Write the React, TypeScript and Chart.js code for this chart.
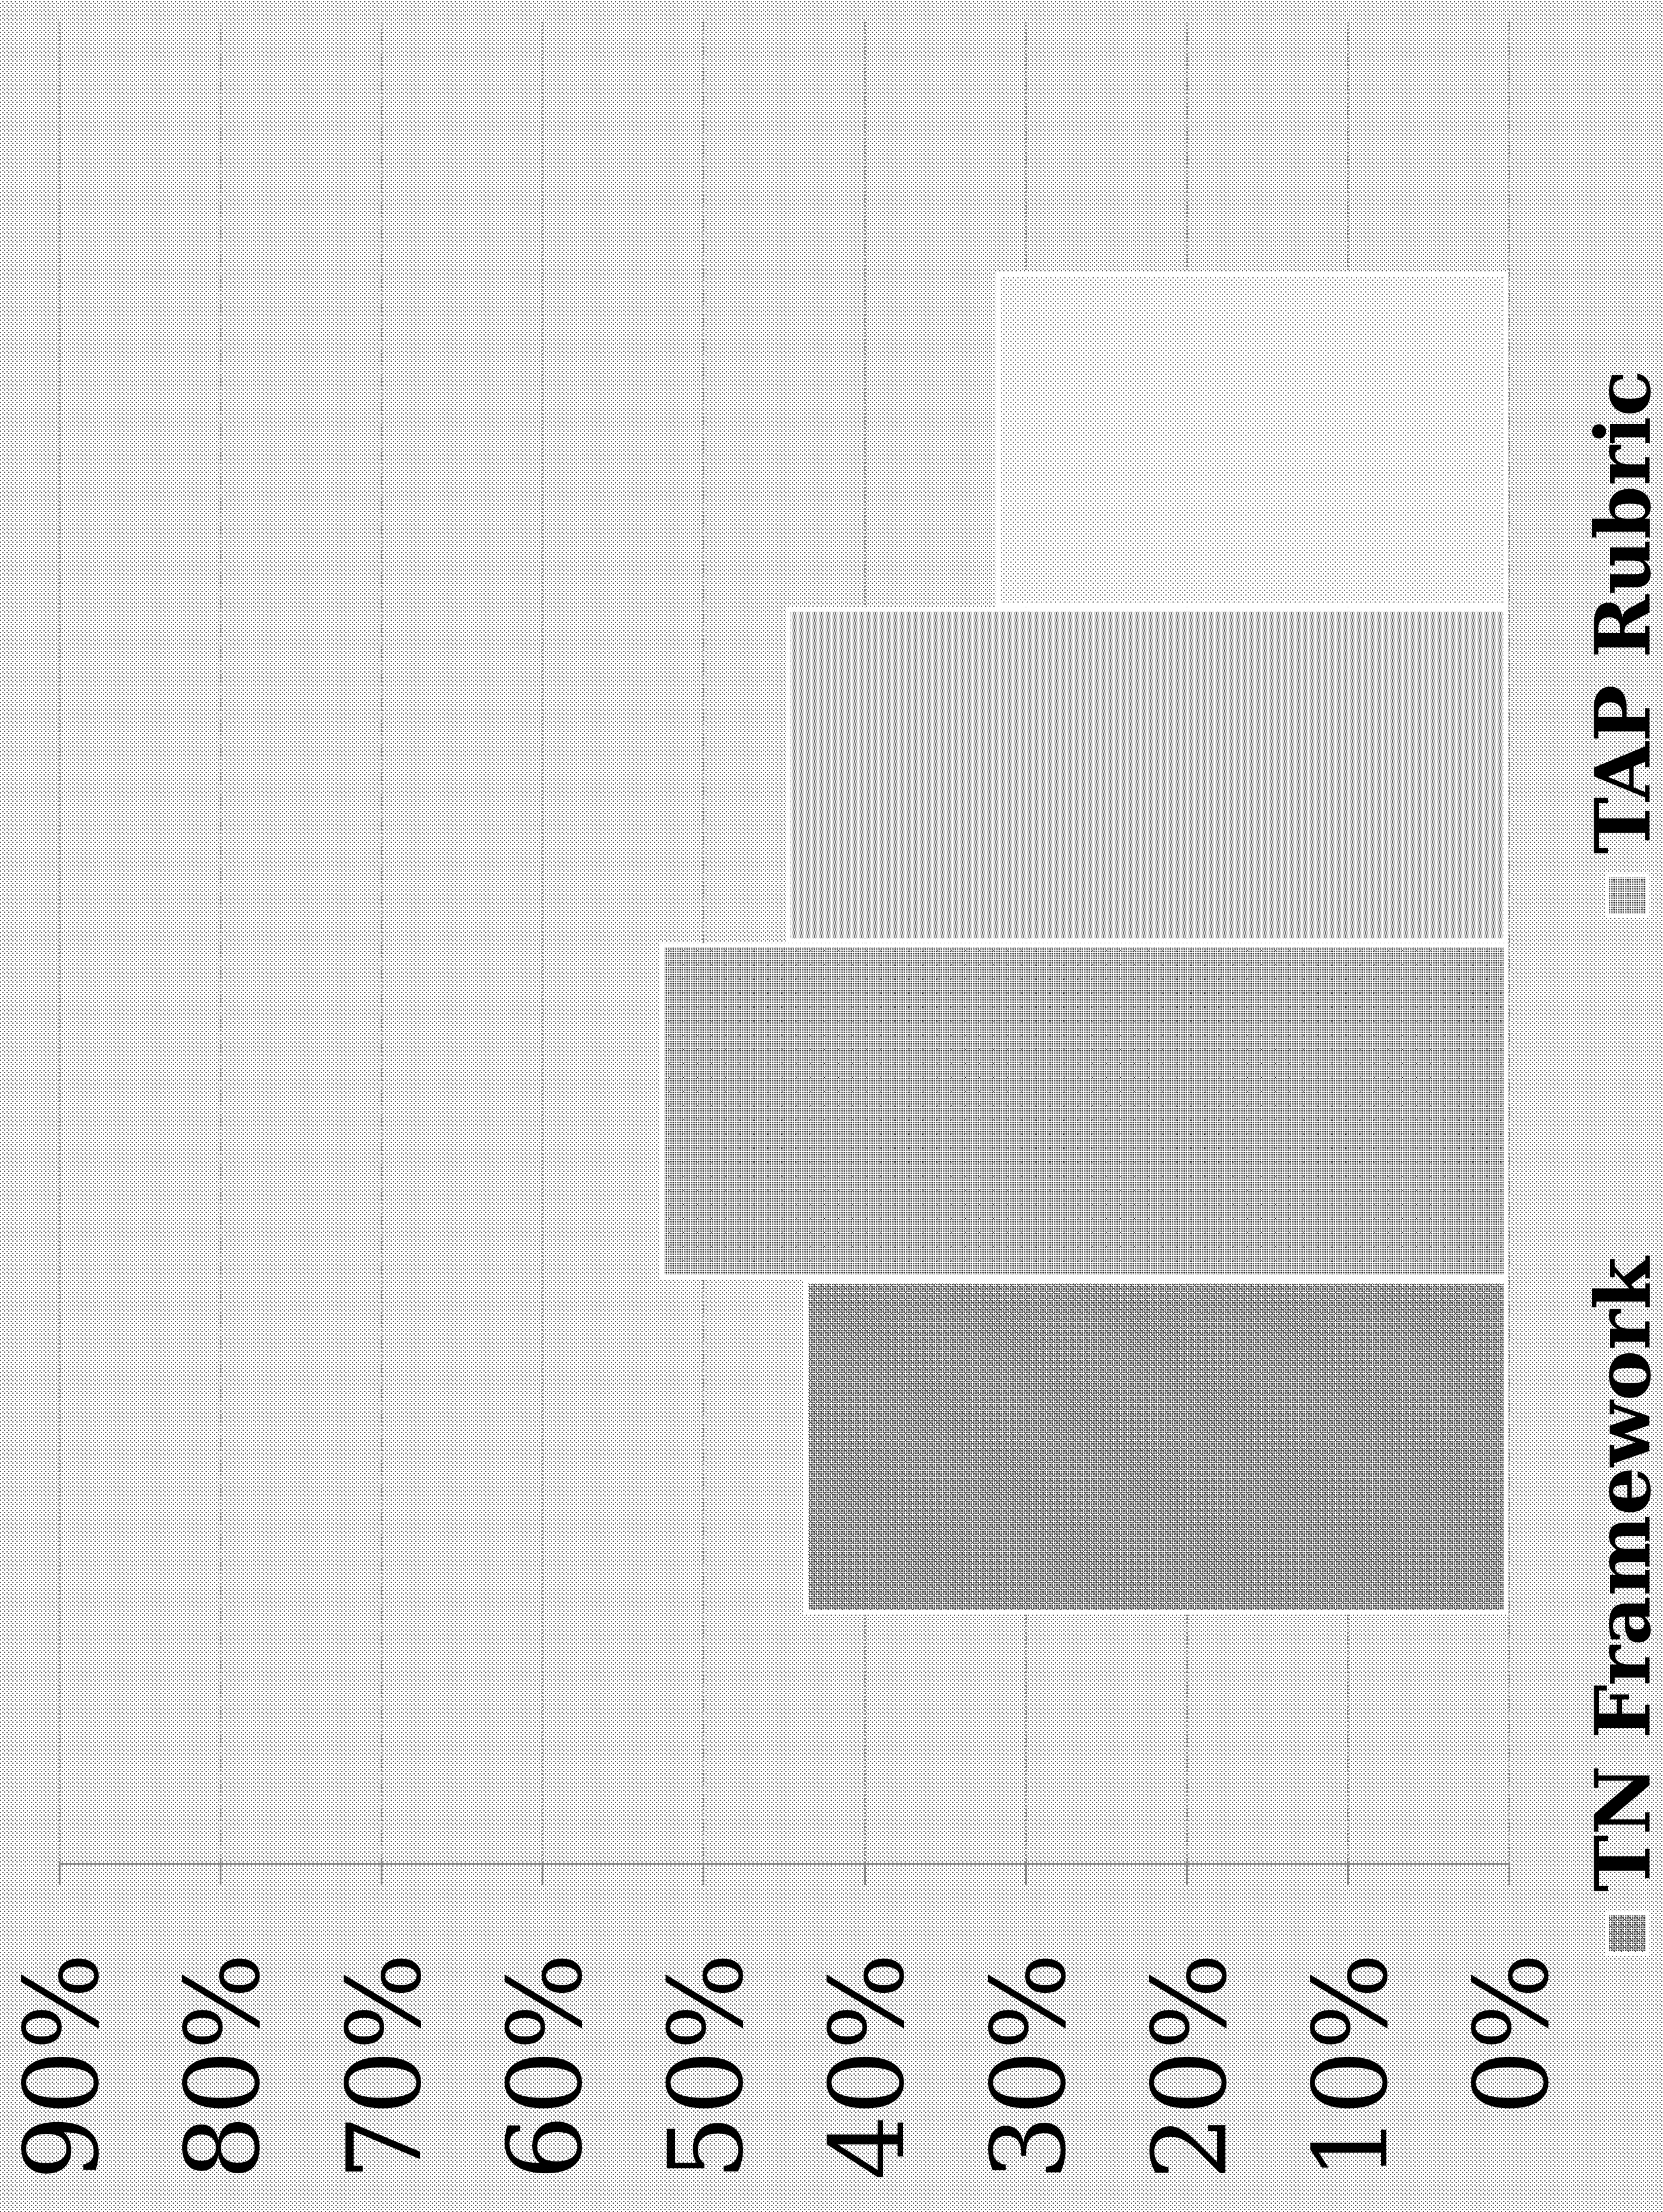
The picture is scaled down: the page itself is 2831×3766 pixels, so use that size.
import React, { useEffect, useRef } from 'react';
import { Chart, registerables } from 'chart.js';

Chart.register(...registerables);

// ---- data ----
const categories: string[] = [''];
const seriesNames: string[] = ['TN Framework', 'TAP Rubric', 'Series 3', 'Series 4'];
const tnFramework: number[] = [0.438];
const tapRubric: number[] = [0.527];
const series3: number[] = [0.449];
const series4: number[] = [0.319];
const yTickValues: number[] = [0, 0.1, 0.2, 0.3, 0.4, 0.5, 0.6, 0.7, 0.8, 0.9];
const legendSeries: number[] = [0, 1];

// chart is drawn landscape and turned a quarter turn
const CW = 3766;
const CH = 2831;

function makePattern(size: number, paint: (g: CanvasRenderingContext2D, s: number) => void): CanvasPattern {
  const c = document.createElement('canvas');
  c.width = size;
  c.height = size;
  const g = c.getContext('2d') as CanvasRenderingContext2D;
  g.fillStyle = '#ffffff';
  g.fillRect(0, 0, size, size);
  paint(g, size);
  return g.createPattern(c, 'repeat') as CanvasPattern;
}

function buildPatterns() {
  const bg = makePattern(7, (g) => {
    g.fillStyle = '#555555';
    g.fillRect(0, 0, 2, 2);
    g.fillRect(3, 4, 2, 2);
  });
  const p1 = makePattern(12, (g, s) => {
    g.fillStyle = '#444444';
    for (let i = 0; i < s; i += 3) for (let j = 0; j < s; j += 3) g.fillRect(i, j, 2, 2);
    for (let k = 0; k < s; k++) {
      g.fillRect(k, k, 1, 1);
      g.fillRect(s - 1 - k, k, 1, 1);
    }
  });
  const p2 = makePattern(24, (g, s) => {
    for (let i = 0; i < s; i += 3)
      for (let j = 0; j < s; j += 3) {
        g.fillStyle = '#222222';
        g.fillRect(i, j, 1, 1);
        g.fillStyle = '#555555';
        g.fillRect(i + 1, j, 1, 1);
        g.fillRect(i, j + 1, 1, 1);
        g.fillStyle = '#b0b0b0';
        g.fillRect(i + 1, j + 1, 1, 1);
      }
    g.fillStyle = '#111111';
    [[10, 10], [11, 11], [12, 12], [10, 12], [12, 10]].forEach(([x, y]) => g.fillRect(x, y, 1, 1));
  });
  const p3 = makePattern(4, (g) => {
    g.fillStyle = '#333333';
    g.fillRect(0, 0, 1, 1);
    g.fillRect(2, 0, 1, 1);
    g.fillRect(1, 2, 1, 1);
    g.fillRect(3, 2, 1, 1);
  });
  const p4 = makePattern(8, (g) => {
    g.fillStyle = '#6a6a6a';
    g.fillRect(0, 0, 2, 2);
    g.fillRect(4, 4, 2, 2);
  });
  return { bg, p1, p2, p3, p4 };
}

export default function App() {
  const ref = useRef<HTMLCanvasElement | null>(null);

  useEffect(() => {
    const canvas = ref.current;
    if (!canvas) return;
    const pats = buildPatterns();

    const bgPlugin = {
      id: 'texturedBackground',
      beforeDraw(chart: any) {
        const ctx = chart.ctx as CanvasRenderingContext2D;
        ctx.save();
        ctx.fillStyle = pats.bg;
        ctx.fillRect(0, 0, chart.width, chart.height);
        ctx.restore();
      },
    };

    const legendPlugin = {
      id: 'columnLegend',
      afterDraw(chart: any, _args: any, opts: any) {
        const ctx = chart.ctx as CanvasRenderingContext2D;
        ctx.save();
        ctx.font = opts.font;
        ctx.textBaseline = 'middle';
        ctx.textAlign = 'left';
        opts.items.forEach((dsIndex: number, i: number) => {
          const ds = chart.data.datasets[dsIndex];
          const x = opts.left + i * opts.colWidth;
          const y = opts.centerY;
          const s = opts.box;
          const b = opts.boxBorder;
          ctx.fillStyle = '#ffffff';
          ctx.fillRect(x - b, y - s / 2 - b, s + 2 * b, s + 2 * b);
          ctx.fillStyle = ds.backgroundColor;
          ctx.fillRect(x, y - s / 2, s, s);
          ctx.fillStyle = '#000000';
          ctx.fillText(ds.label, x + s + opts.gap, y + opts.textShift);
        });
        ctx.restore();
      },
    };

    const chart = new Chart(canvas, {
      type: 'bar',
      data: {
        labels: categories,
        datasets: [
          { label: seriesNames[0], data: tnFramework, backgroundColor: pats.p1 },
          { label: seriesNames[1], data: tapRubric, backgroundColor: pats.p2 },
          { label: seriesNames[2], data: series3, backgroundColor: pats.p3 },
          { label: seriesNames[3], data: series4, backgroundColor: pats.p4 },
        ] as any,
      },
      options: {
        responsive: false,
        animation: false,
        devicePixelRatio: 1,
        layout: { padding: { left: 17, right: 37, top: 101, bottom: 262 } },
        datasets: {
          bar: {
            categoryPercentage: 0.729,
            barPercentage: 1,
            borderColor: '#ffffff',
            borderWidth: 8,
            borderSkipped: false,
          },
        } as any,
        plugins: {
          legend: { display: false },
          tooltip: { enabled: false },
          columnLegend: {
            items: legendSeries,
            left: 443,
            colWidth: 1767,
            centerY: 2770,
            box: 62,
            boxBorder: 7,
            gap: 40,
            textShift: 4,
            font: 'bold 130px "DejaVu Serif"',
          },
        } as any,
        scales: {
          x: { display: false },
          y: {
            min: 0,
            max: 0.9,
            afterBuildTicks: (axis: any) => {
              axis.ticks = yTickValues.map((value) => ({ value }));
            },
            afterFit: (axis: any) => {
              axis.paddingTop = 0;
              axis.paddingBottom = 0;
              axis.width = 575;
            },
            grid: {
              color: '#858585',
              lineWidth: 3,
              drawTicks: true,
              tickLength: 35,
              tickColor: '#858585',
              tickWidth: 3,
            },
            border: { display: true, color: '#8a8a8a', width: 3, dash: [3, 3] },
            ticks: {
              font: { family: 'DejaVu Serif', size: 174 },
              color: '#000000',
              padding: 116,
              labelOffset: 20,
              callback: (v: any) => `${Math.round(Number(v) * 100)}%`,
            },
          },
        },
      },
      plugins: [bgPlugin, legendPlugin],
    });

    return () => chart.destroy();
  }, []);

  return (
    <div style={{ position: 'absolute', left: 0, top: 0, width: CH, height: CW, overflow: 'hidden', background: '#fff' }}>
      <div
        style={{
          position: 'absolute',
          left: 0,
          top: 0,
          width: CW,
          height: CH,
          transformOrigin: '0 0',
          transform: `translateY(${CW}px) rotate(-90deg)`,
        }}
      >
        <canvas ref={ref} width={CW} height={CH} style={{ width: CW, height: CH, display: 'block' }} />
      </div>
    </div>
  );
}
